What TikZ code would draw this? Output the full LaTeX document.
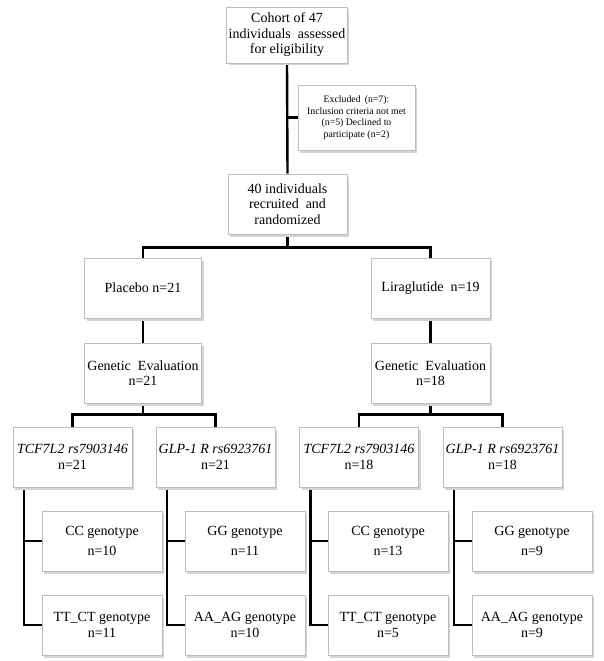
\documentclass[tikz,border=0pt]{standalone}
\usepackage{fontspec}
\setmainfont{Liberation Serif}
\usetikzlibrary{calc, shadows, backgrounds}
\pgfdeclarelayer{lines}
\pgfsetlayers{background,lines,main}
\definecolor{edgegray}{HTML}{BDBDBD}
\definecolor{shadegray}{HTML}{D4D4D4}
\definecolor{linkblack}{HTML}{000000}
\tikzset{
  cbox/.style={rectangle, draw=edgegray, line width=0.8pt, fill=white,
    drop shadow={shadow xshift=2pt, shadow yshift=-2.5pt, fill=shadegray, opacity=1},
    font=\fontsize{14}{15.5}\selectfont, minimum width=119pt, minimum height=60pt,
    align=center, inner sep=2pt},
  cbox/excl/.style={cbox, font=\fontsize{9.8}{11.5}\selectfont,
    minimum width=117pt, minimum height=65pt},
  cbox/top/.style={cbox, minimum width=118pt, minimum height=56pt},
  gbox/.style={cbox, minimum width=120pt},
  ln/.style={draw=linkblack, line width=2.4pt},
}
\newcommand{\GT}[2]{#1 genotype\\[4pt]n=#2}
\newcommand{\GTb}[2]{#1 genotype\\[0pt]n=#2}

\begin{document}
\begin{tikzpicture}[x=1pt, y=-1pt]
\useasboundingbox (0,0) rectangle (603,661);

\node[cbox/top]  (COH) at (287,35)    {Cohort of 47\\individuals \ assessed\\for eligibility};
\node[cbox/excl] (EXC) at (356.5,117.5) {Excluded \,(n=7):\\Inclusion criteria not met\\(n=5) Declined to\\participate (n=2)};
\node[cbox]      (REC) at (287.5,204) {40 individuals\\recruited \ and\\randomized};

\node[cbox, minimum width=117pt] (PLA) at (143,288)   {Placebo n=21};
\node[cbox]      (LIR) at (430.5,288) {Liraglutide \ n=19};
\node[cbox, minimum width=117pt] (GEP) at (143,373)   {Genetic \ Evaluation\\n=21};
\node[cbox]      (GEL) at (430.5,373) {Genetic \ Evaluation\\n=18};

\node[cbox] (TCP) at (72.5,457)  {\textit{TCF7L2 rs7903146}\\n=21};
\node[cbox] (GLP) at (215.5,457) {\textit{GLP-1 R rs6923761}\\n=21};
\node[cbox] (TCL) at (359,457)   {\textit{TCF7L2 rs7903146}\\n=18};
\node[cbox] (GLL) at (502.5,457) {\textit{GLP-1 R rs6923761}\\n=18};

\node[gbox] (CCP) at (102,541) {\GT{CC}{10}};
\node[gbox] (TTP) at (102,625) {\GTb{TT\_CT}{11}};
\node[gbox] (GGP) at (245,541) {\GT{GG}{11}};
\node[gbox] (AAP) at (245,625) {\GTb{AA\_AG}{10}};
\node[gbox] (CCL) at (388,541) {\GT{CC}{13}};
\node[gbox] (TTL) at (388,625) {\GTb{TT\_CT}{5}};
\node[gbox] (GGL) at (532,541) {\GT{GG}{9}};
\node[gbox] (AAL) at (532,625) {\GTb{AA\_AG}{9}};

\begin{pgfonlayer}{lines}
\draw[ln] (COH.south) -- (REC.north);
\draw[ln] (EXC.west) -- (EXC.west -| COH.south);
\draw[ln] (REC.south) -- ($(REC.south)+(0,13)$) -| (PLA.north);
\draw[ln] ($(REC.south)+(0,13)$) -| (LIR.north);
\draw[ln] (PLA.south) -- (GEP.north);
\draw[ln] (LIR.south) -- (GEL.north);
\draw[ln] (GEP.south) -- ($(GEP.south)+(0,11)$) -| (TCP.north);
\draw[ln] ($(GEP.south)+(0,11)$) -| (GLP.north);
\draw[ln] (GEL.south) -- ($(GEL.south)+(0,11)$) -| (TCL.north);
\draw[ln] ($(GEL.south)+(0,11)$) -| (GLL.north);
\draw[ln] ($(TCP.south west)!0.095!(TCP.south east)$) |- (CCP.west);
\draw[ln] ($(TCP.south west)!0.095!(TCP.south east)$) |- (TTP.west);
\draw[ln] ($(GLP.south west)!0.095!(GLP.south east)$) |- (GGP.west);
\draw[ln] ($(GLP.south west)!0.095!(GLP.south east)$) |- (AAP.west);
\draw[ln] ($(TCL.south west)!0.095!(TCL.south east)$) |- (CCL.west);
\draw[ln] ($(TCL.south west)!0.095!(TCL.south east)$) |- (TTL.west);
\draw[ln] ($(GLL.south west)!0.095!(GLL.south east)$) |- (GGL.west);
\draw[ln] ($(GLL.south west)!0.095!(GLL.south east)$) |- (AAL.west);
\end{pgfonlayer}
\end{tikzpicture}
\end{document}
